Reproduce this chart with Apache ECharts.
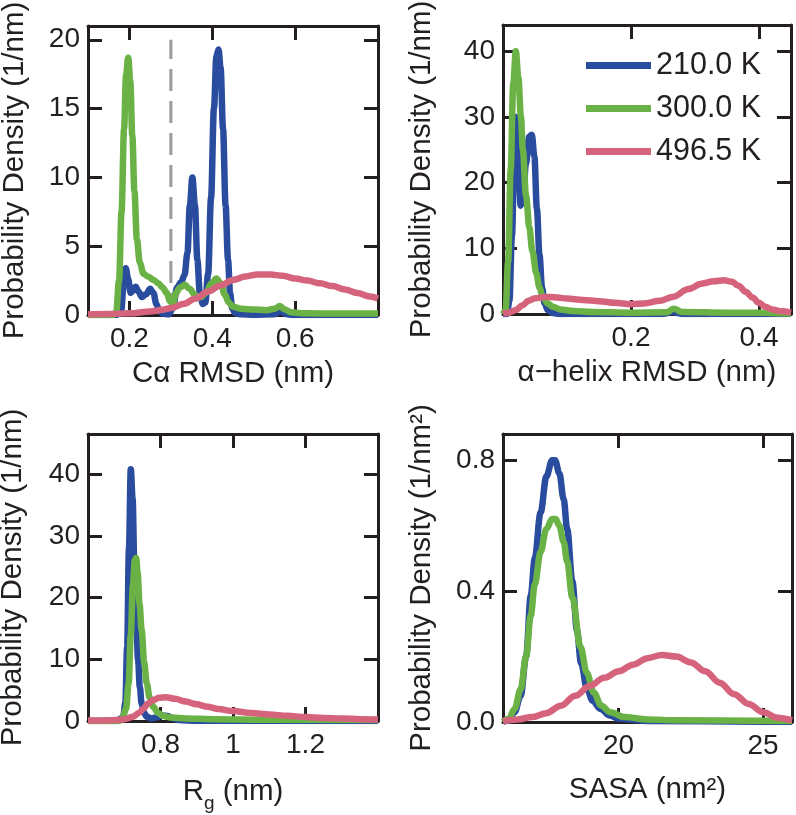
<!DOCTYPE html>
<html>
<head>
<meta charset="utf-8">
<script src="https://cdn.jsdelivr.net/npm/echarts@6/dist/echarts.min.js"></script>
<style>
  html, body { margin: 0; padding: 0; background: #fff; }
  #main { width: 796px; height: 815px; }
</style>
</head>
<body>
<div id="main"></div>
<script>
// legend / series names
const temps = ['210.0 K', '300.0 K', '496.5 K']
const colors = ['#2a4c9e', '#6ab245', '#d6637c']

// panel A: C-alpha RMSD (nm) vs density
const ca210 = [[0.10,0],[0.17,0],[0.18,0.3],[0.186,2.2],[0.191,3.4],[0.197,2.6],[0.203,1.6],[0.209,1.8],[0.215,2.05],[0.222,1.7],[0.23,1.3],[0.24,1.5],[0.25,1.9],[0.258,1.6],[0.265,0.8],[0.272,0.3],[0.28,0.1],[0.295,0.05],[0.305,0.5],[0.315,2.0],[0.325,2.4],[0.333,2.9],[0.34,4.5],[0.346,8.0],[0.352,10.0],[0.358,8.0],[0.364,4.0],[0.37,1.6],[0.377,0.8],[0.383,0.9],[0.39,3.0],[0.397,8.5],[0.404,15.0],[0.41,18.8],[0.415,19.3],[0.42,18.0],[0.426,13.5],[0.432,8.0],[0.438,4.0],[0.443,1.6],[0.448,0.5],[0.455,0.15],[0.47,0.05],[0.5,0.02],[0.55,0.05],[0.565,0.25],[0.58,0.05],[0.6,0],[0.8,0]]
const ca300 = [[0.10,0],[0.16,0],[0.168,0.2],[0.175,2.5],[0.181,7.5],[0.187,13.5],[0.192,17.5],[0.197,18.7],[0.202,17.0],[0.207,13.0],[0.212,9.0],[0.218,5.5],[0.225,3.8],[0.234,3.0],[0.245,2.8],[0.258,2.55],[0.27,2.3],[0.28,2.0],[0.29,1.6],[0.298,1.0],[0.305,0.8],[0.312,1.6],[0.322,2.0],[0.334,2.2],[0.345,1.9],[0.36,1.4],[0.372,1.3],[0.385,1.6],[0.398,2.3],[0.41,2.65],[0.42,2.3],[0.43,1.5],[0.44,0.9],[0.45,0.6],[0.47,0.45],[0.5,0.4],[0.53,0.35],[0.55,0.45],[0.563,0.65],[0.575,0.4],[0.59,0.2],[0.62,0.12],[0.7,0.1],[0.8,0.1]]
const ca496 = [[0.10,0.05],[0.15,0.08],[0.2,0.12],[0.25,0.25],[0.28,0.38],[0.3,0.5],[0.33,0.8],[0.36,1.2],[0.39,1.7],[0.42,2.15],[0.45,2.55],[0.48,2.8],[0.51,2.95],[0.54,2.95],[0.57,2.85],[0.6,2.65],[0.63,2.5],[0.66,2.3],[0.69,2.1],[0.72,1.85],[0.75,1.6],[0.78,1.35],[0.8,1.2]]
const cutoff = [[0.3,0],[0.3,20]]

// panel B: alpha-helix RMSD (nm)
const ah210 = [[0,0],[0.006,0],[0.01,2],[0.014,12],[0.018,26],[0.021,30],[0.024,24],[0.0275,16.5],[0.031,17.5],[0.036,23],[0.041,27],[0.045,27.3],[0.049,24],[0.053,16],[0.057,9],[0.061,4],[0.065,1.6],[0.07,0.6],[0.078,0.15],[0.09,0],[0.25,0],[0.265,0.3],[0.28,0],[0.45,0]]
const ah300 = [[0,0],[0.004,0.5],[0.008,8],[0.012,22],[0.016,35],[0.02,40],[0.024,36],[0.028,30],[0.031,25],[0.036,18],[0.041,13.3],[0.046,9.5],[0.052,6.2],[0.057,4],[0.062,2.6],[0.07,1.6],[0.078,1.1],[0.09,0.7],[0.11,0.45],[0.14,0.3],[0.2,0.2],[0.255,0.25],[0.267,0.8],[0.28,0.3],[0.35,0.2],[0.41,0.2],[0.43,0.1],[0.45,0.05]]
const ah496 = [[0,0.1],[0.01,0.2],[0.02,0.6],[0.03,1.3],[0.04,2.0],[0.05,2.4],[0.065,2.6],[0.08,2.55],[0.1,2.35],[0.125,2.15],[0.15,1.95],[0.175,1.7],[0.2,1.5],[0.22,1.6],[0.245,2.0],[0.265,2.6],[0.29,3.8],[0.31,4.6],[0.33,5.0],[0.345,5.15],[0.358,4.9],[0.368,4.3],[0.379,3.4],[0.39,2.5],[0.4,1.7],[0.41,1.1],[0.42,0.7],[0.435,0.4],[0.45,0.2]]

// panel C: radius of gyration (nm)
const rg210 = [[0.6,0],[0.68,0],[0.69,0.4],[0.697,0.6],[0.703,3],[0.708,12],[0.713,28],[0.718,40.8],[0.723,36],[0.728,25],[0.733,17],[0.738,10],[0.743,5.5],[0.748,2.8],[0.755,1.3],[0.762,0.7],[0.775,0.4],[0.79,0.6],[0.805,0.9],[0.82,0.8],[0.835,0.4],[0.85,0.15],[0.9,0.05],[1.4,0]]
const rg300 = [[0.6,0],[0.685,0],[0.695,0.5],[0.705,2],[0.712,6],[0.718,14],[0.724,22],[0.729,26],[0.733,26.4],[0.737,24],[0.742,19],[0.748,14.8],[0.755,9.5],[0.762,6.1],[0.77,3.8],[0.78,2.3],[0.793,1.3],[0.808,0.8],[0.83,0.55],[0.87,0.4],[0.95,0.3],[1.1,0.2],[1.4,0.15]]
const rg496 = [[0.6,0.1],[0.65,0.1],[0.68,0.15],[0.7,0.3],[0.725,0.7],[0.74,1.3],[0.753,2.0],[0.765,2.8],[0.78,3.4],[0.795,3.75],[0.815,3.85],[0.84,3.6],[0.87,3.15],[0.9,2.7],[0.93,2.3],[0.96,1.95],[1.0,1.6],[1.05,1.3],[1.1,1.05],[1.15,0.85],[1.2,0.65],[1.25,0.5],[1.3,0.4],[1.35,0.3],[1.4,0.25]]

// panel D: SASA (nm^2)
const sa210 = [[16,0],[16.2,0.005],[16.4,0.03],[16.61,0.08],[16.8,0.2],[16.96,0.386],[17.1,0.5],[17.3,0.64],[17.5,0.75],[17.7,0.8],[17.8,0.8],[17.95,0.76],[18.1,0.68],[18.22,0.59],[18.4,0.43],[18.56,0.28],[18.7,0.18],[18.91,0.1],[19.1,0.065],[19.37,0.04],[19.7,0.02],[20,0.01],[21,0.003],[26,0]]
const sa300 = [[16,0],[16.2,0.01],[16.4,0.04],[16.61,0.1],[16.8,0.2],[16.96,0.325],[17.1,0.42],[17.3,0.52],[17.5,0.59],[17.7,0.62],[17.82,0.62],[17.95,0.6],[18.1,0.55],[18.22,0.49],[18.4,0.38],[18.68,0.23],[18.9,0.15],[19.14,0.09],[19.4,0.05],[19.71,0.03],[20.2,0.015],[21,0.008],[22,0.005],[26,0.003]]
const sa496 = [[16,0.003],[16.5,0.008],[17,0.015],[17.5,0.027],[18,0.05],[18.5,0.08],[19,0.11],[19.5,0.135],[20,0.155],[20.5,0.175],[21,0.195],[21.5,0.205],[22,0.2],[22.5,0.182],[23,0.155],[23.5,0.12],[24,0.085],[24.5,0.055],[25,0.03],[25.5,0.013],[26,0.005]]

const ink = '#231f20'
const font = "'Liberation Sans', Arial, Helvetica, sans-serif"
const nameSize = 29.5
const tickSize = 28

// one entry per panel
const panels = [
  { grid: { left: 88, top: 26, width: 290, height: 289 },
    x: { min: 0.1, max: 0.8, step: 0.2 }, y: { min: 0, max: 21, step: 5 },
    xName: 'Cα RMSD (nm)', yName: 'Probability Density (1/nm)', xGap: 44, yGap: 58,
    data: [ca210, ca300, ca496] },
  { grid: { left: 503, top: 25, width: 288, height: 289 },
    x: { min: 0, max: 0.45, step: 0.2 }, y: { min: 0, max: 44, step: 10 },
    xName: 'α−helix RMSD (nm)', yName: 'Probability Density (1/nm)', xGap: 44, yGap: 66,
    data: [ah210, ah300, ah496] },
  { grid: { left: 88, top: 434, width: 290, height: 287 },
    x: { min: 0.6, max: 1.4, step: 0.2 }, y: { min: 0, max: 46.5, step: 10 },
    xName: '{r|R}{g|g}{r| (nm)}', yName: 'Probability Density (1/nm)', xGap: 50, yGap: 60,
    data: [rg210, rg300, rg496] },
  { grid: { left: 503, top: 434, width: 289, height: 288 },
    x: { min: 16, max: 26, step: 5 }, y: { min: 0, max: 0.88, step: 0.4, fixed: 1 },
    xName: 'SASA (nm²)', yName: 'Probability Density (1/nm²)', xGap: 53, yGap: 66,
    data: [sa210, sa300, sa496] }
]

const frame = { show: true, onZero: false, lineStyle: { color: ink, width: 3 } }
const tick = { show: true, inside: true, length: 14, lineStyle: { color: ink, width: 3 } }

const grids = [], xAxes = [], yAxes = [], series = []
panels.forEach((p, i) => {
  grids.push(Object.assign({ containLabel: false, outerBoundsMode: 'none' }, p.grid))
  const xBase = {
    type: 'value', gridIndex: i, min: p.x.min, max: p.x.max,
    minInterval: p.x.step, maxInterval: p.x.step, splitNumber: 3,
    axisLine: frame, axisTick: tick, splitLine: { show: false }
  }
  const yBase = {
    type: 'value', gridIndex: i, min: p.y.min, max: p.y.max, interval: p.y.step,
    axisLine: frame, axisTick: tick, splitLine: { show: false }
  }
  xAxes.push(Object.assign({}, xBase, {
    position: 'bottom',
    name: p.xName, nameLocation: 'middle', nameGap: p.xGap,
    nameTextStyle: {
      color: ink, fontSize: nameSize, fontFamily: font,
      rich: {
        r: { fontSize: nameSize, fontFamily: font, color: ink, lineHeight: 42 },
        g: { fontSize: 19, fontFamily: font, color: ink, lineHeight: 19, verticalAlign: 'bottom' }
      }
    },
    axisLabel: { color: ink, fontSize: tickSize, fontFamily: font, margin: 10, showMinLabel: false, showMaxLabel: false }
  }))
  xAxes.push(Object.assign({}, xBase, { position: 'top', axisLabel: { show: false } }))
  yAxes.push(Object.assign({}, yBase, {
    position: 'left',
    name: p.yName, nameLocation: 'middle', nameGap: p.yGap,
    nameTextStyle: { color: ink, fontSize: nameSize, fontFamily: font },
    axisLabel: {
      color: ink, fontSize: tickSize, fontFamily: font, margin: 8, showMaxLabel: false,
      formatter: p.y.fixed ? (v) => v.toFixed(p.y.fixed) : null
    }
  }))
  yAxes.push(Object.assign({}, yBase, { position: 'right', axisLabel: { show: false } }))

  p.data.forEach((d, k) => {
    series.push({
      name: temps[k], type: 'line', data: d,
      xAxisIndex: 2 * i, yAxisIndex: 2 * i,
      showSymbol: false, smooth: 0.35, smoothMonotone: 'x',
      lineStyle: { color: colors[k], width: 6.5 }, itemStyle: { color: colors[k] },
      z: 3 + k, silent: true
    })
  })
})

// dashed cutoff line in panel A
series.push({
  type: 'line', data: cutoff, xAxisIndex: 0, yAxisIndex: 0,
  showSymbol: false, silent: true, z: 2,
  lineStyle: { color: '#9a9a9a', width: 3, type: [22, 10] }
})

const chart = echarts.init(document.getElementById('main'), null, { renderer: 'canvas' })
chart.setOption({
  animation: false,
  backgroundColor: '#fff',
  grid: grids,
  xAxis: xAxes,
  yAxis: yAxes,
  legend: {
    data: temps, orient: 'vertical', left: 581, top: 45,
    icon: 'rect', itemWidth: 65, itemHeight: 7, itemGap: 12, itemTextGap: 12,
    textStyle: { color: ink, fontSize: 30.5, fontFamily: font, lineHeight: 30 },
    selectedMode: false
  },
  series: series
})
</script>
</body>
</html>
